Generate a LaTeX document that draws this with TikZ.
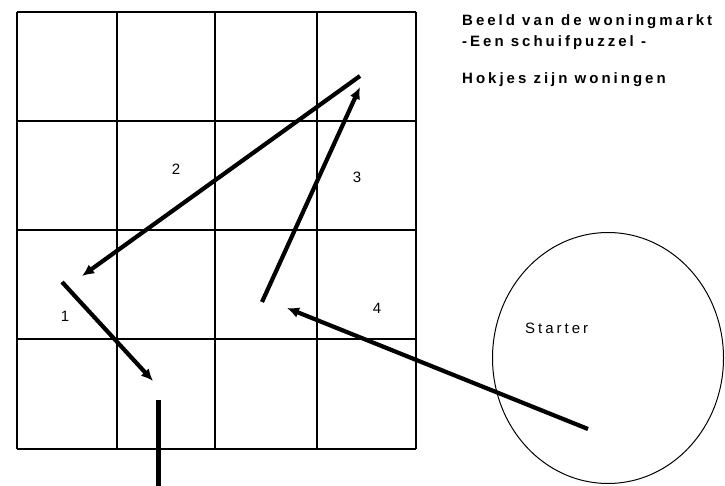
\documentclass[tikz,border=0pt]{standalone}
\usepackage{fontspec}
\setmainfont{Liberation Sans}
\newfontfamily\wide[LetterSpace=20]{Liberation Sans}
\usetikzlibrary{arrows.meta,shapes.geometric}
\begin{document}
\begin{tikzpicture}[x=1pt,y=-1pt,
  gridline/.style={line width=1.3pt,black},
  movearrow/.style={line width=4.2pt,-{Latex[length=12pt,width=11pt]}},
  bar/.style={line width=5pt},
  lbl/.style={font=\wide\fontsize{15}{17}\selectfont,inner sep=0pt},
  title/.style={font=\wide\fontsize{15}{17}\selectfont,inner sep=0pt,anchor=west}]
\useasboundingbox (0,0) rectangle (725,486);
\fill[white] (0,0) rectangle (725,486);
% grid
\foreach \x in {17,117,215,317,416} \draw[gridline] (\x,12) -- (\x,449);
\foreach \y in {12,121,230,339,449} \draw[gridline] (17,\y) -- (416,\y);
% ellipse
\node[draw,ellipse,line width=1pt,minimum width=231pt,minimum height=251pt,inner sep=0pt] (starter) at (608,358) {};
\node[title] (startertext) at (525,328) {Starter};
% coordinates
\coordinate (a2s) at (360,76);
\coordinate (a2e) at (82,276);
\coordinate (a3s) at (262,302);
\coordinate (a3e) at (360,87);
\coordinate (a1s) at (62,282);
\coordinate (a1e) at (153,381);
\coordinate (a4s) at (588,429);
\coordinate (a4e) at (287,308);
\coordinate (bs) at (158,400);
\coordinate (be) at (158,486);
% arrows
\draw[movearrow] (a2s) -- (a2e);
\draw[movearrow] (a3s) -- (a3e);
\draw[movearrow] (a1s) -- (a1e);
\draw[movearrow] (a4s) -- (a4e);
\draw[bar] (bs) -- (be);
% labels
\node[lbl] (l2) at (176,169) {2};
\node[lbl] (l3) at (357,177) {3};
\node[lbl] (l1) at (65,316) {1};
\node[lbl] (l4) at (377,308) {4};
% titles
\node[title] (t1) at (462,22) {\bfseries Beeld van de woningmarkt};
\node[title] (t2) at (462,43) {\bfseries -Een schuifpuzzel -};
\node[title] (t3) at (462,80) {\bfseries Hokjes zijn woningen};
\end{tikzpicture}
\end{document}
